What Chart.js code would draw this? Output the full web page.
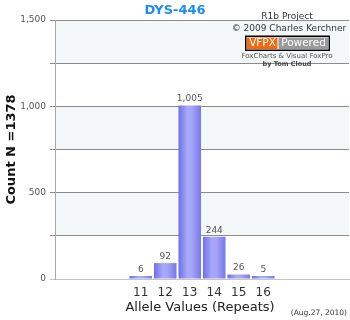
<!DOCTYPE html>
<html>
<head>
<meta charset="utf-8">
<script src="https://cdn.jsdelivr.net/npm/chart.js@4/dist/chart.umd.min.js"></script>
<style>
html,body{margin:0;padding:0;background:#fff;}
#wrap{width:350px;height:320px;}
</style>
</head>
<body>
<div id="wrap"><canvas id="c" width="350" height="320"></canvas></div>
<script>
// ---- data ----
const categories = ['', '', '', '11', '12', '13', '14', '15', '16', '', '', ''];
const counts = [null, null, null, 6, 92, 1005, 244, 26, 5, null, null, null];
const yTicks = [0, 500, 1000, 1500];
const titleText = 'DYS-446';
const yTitle = 'Count N =1378';
const xTitle = 'Allele Values (Repeats)';
const dateText = '(Aug.27, 2010)';
const creditLines = ['R1b Project', '\u00A9 2009 Charles Kerchner'];
const foxLines = ['FoxCharts & Visual FoxPro', 'by Tom Cloud'];

const FONT = '"DejaVu Sans", Verdana, sans-serif';

function barFill(ctx) {
  const chart = ctx.chart;
  const xs = chart.scales && chart.scales.x;
  if (!xs || !chart.chartArea || xs.width === undefined) return '#8585f0';
  const cx = xs.getPixelForValue(ctx.dataIndex);
  const w = xs.width / categories.length * 0.92;
  if (!isFinite(cx) || !isFinite(w)) return '#8585f0';
  const g = chart.ctx.createLinearGradient(cx - w / 2, 0, cx + w / 2, 0);
  g.addColorStop(0, '#6e6ee8');
  g.addColorStop(0.4, '#a9a9f8');
  g.addColorStop(0.6, '#a4a4f7');
  g.addColorStop(1, '#7777ec');
  return g;
}

const bandsPlugin = {
  id: 'bands',
  beforeDraw(chart) {
    const { ctx, chartArea: a, scales: { y } } = chart;
    ctx.save();
    ctx.fillStyle = '#ffffff';
    ctx.fillRect(0, 0, chart.width, chart.height);
    ctx.fillStyle = '#f3f7f8';
    [[250, 500], [750, 1000], [1250, 1500]].forEach(([lo, hi]) => {
      const y1 = Math.round(y.getPixelForValue(hi)), y2 = Math.round(y.getPixelForValue(lo));
      ctx.fillRect(a.left, y1, a.right - a.left, y2 - y1);
    });
    ctx.restore();
  }
};

const textPlugin = {
  id: 'texts',
  afterDraw(chart) {
    const ctx = chart.ctx;
    const a = chart.chartArea;
    ctx.save();
    // title
    ctx.fillStyle = '#1f8cf5';
    ctx.font = 'bold 13px ' + FONT;
    ctx.textAlign = 'center';
    ctx.textBaseline = 'middle';
    ctx.fillText(titleText, 175, 11);
    // y title
    ctx.save();
    ctx.translate(12, (a.top + a.bottom) / 2);
    ctx.rotate(-Math.PI / 2);
    ctx.fillStyle = '#111';
    ctx.font = 'bold 13px ' + FONT;
    ctx.fillText(yTitle, 0, 0);
    ctx.restore();
    // x title
    ctx.fillStyle = '#222';
    ctx.font = '13px ' + FONT;
    ctx.fillText(xTitle, 200, 308);
    // date
    ctx.font = '7.5px ' + FONT;
    ctx.fillStyle = '#333';
    ctx.textAlign = 'right';
    ctx.fillText(dateText, 347, 313);
    // credits
    ctx.textAlign = 'center';
    ctx.font = '9px ' + FONT;
    ctx.fillStyle = '#333';
    ctx.fillText(creditLines[0], 287, 17);
    ctx.fillText(creditLines[1], 289, 29);
    // logo
    ctx.fillStyle = '#000';
    ctx.fillRect(245, 35.5, 85, 15.5);
    ctx.fillStyle = '#fff';
    ctx.fillRect(246.5, 37, 82, 12.5);
    ctx.fillStyle = '#f26a10';
    ctx.fillRect(247, 37.5, 30.5, 11.5);
    ctx.fillStyle = '#9a9a9a';
    ctx.fillRect(278.5, 37.5, 50, 11.5);
    ctx.fillStyle = '#fff';
    ctx.font = '10.5px ' + FONT;
    ctx.fillText('VFPX', 262.5, 43.5);
    ctx.fillText('Powered', 303.5, 43.5);
    ctx.font = '7px ' + FONT;
    ctx.fillStyle = '#555';
    ctx.fillText(foxLines[0], 287, 56);
    ctx.font = 'bold 6.5px ' + FONT;
    ctx.fillStyle = '#444';
    ctx.fillText(foxLines[1], 287, 64);
    ctx.restore();
  }
};

const labelPlugin = {
  id: 'barLabels',
  afterDatasetsDraw(chart) {
    const ctx = chart.ctx;
    const meta = chart.getDatasetMeta(0);
    ctx.save();
    ctx.font = '9px ' + FONT;
    ctx.fillStyle = '#555';
    ctx.textAlign = 'center';
    ctx.textBaseline = 'bottom';
    meta.data.forEach((el, i) => {
      const v = counts[i];
      if (v === null || v === undefined) return;
      ctx.fillText(v.toLocaleString('en-US'), el.x, el.y - 2);
    });
    ctx.restore();
  }
};

new Chart(document.getElementById('c'), {
  type: 'bar',
  data: {
    labels: categories,
    datasets: [{
      data: counts,
      backgroundColor: barFill,
      borderWidth: 0,
      barPercentage: 0.92,
      categoryPercentage: 1.0,
      minBarLength: 3
    }]
  },
  options: {
    responsive: false,
    animation: false,
    events: [],
    layout: { padding: { top: 20, right: 1, left: 0, bottom: 0 } },
    plugins: { legend: { display: false }, tooltip: { enabled: false }, title: { display: false } },
    scales: {
      x: {
        afterFit(s) { s.height = 41; },
        grid: { display: false, drawTicks: false },
        border: { display: true, color: '#c4c4c4' },
        ticks: { color: '#333', font: { family: FONT, size: 12 }, padding: 7, maxRotation: 0, autoSkip: false }
      },
      y: {
        min: 0, max: 1500,
        afterFit(s) { s.width = 55; },
        afterBuildTicks(s) {
          const t = [];
          for (let v = 0; v <= 1500; v += 250) t.push({ value: v });
          s.ticks = t;
        },
        grid: {
          color: (c) => (c.tick && c.tick.value === 0) ? '#c4c4c4' : '#8c8c8c',
          tickLength: 5, lineWidth: 1
        },
        border: { display: true, color: '#a8a8a8' },
        ticks: {
          color: '#555',
          font: { family: FONT, size: 9 },
          padding: 4,
          callback: (v) => yTicks.includes(v) ? v.toLocaleString('en-US') : ''
        }
      }
    }
  },
  plugins: [bandsPlugin, labelPlugin, textPlugin]
});
</script>
</body>
</html>
